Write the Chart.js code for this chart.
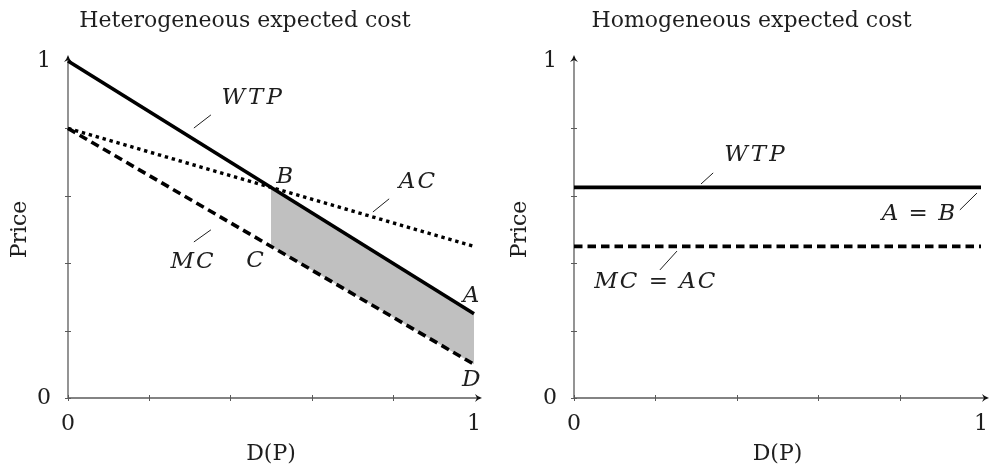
<!DOCTYPE html>
<html>
<head>
<meta charset="utf-8">
<script src="https://cdn.jsdelivr.net/npm/chart.js@4.4.1/dist/chart.umd.min.js"></script>
<style>
  html, body { margin: 0; padding: 0; background: #fff; }
  #wrap { position: relative; width: 993px; height: 467px; }
  canvas { position: absolute; top: 0; }
  #left { left: 0; }
  #right { left: 500px; }
</style>
</head>
<body>
<div id="wrap">
  <canvas id="left" width="500" height="467"></canvas>
  <canvas id="right" width="493" height="467"></canvas>
</div>
<script>
// Share of the market covered, D(P), at the two ends of the axis
const shareEnds = [0, 1];

// Heterogeneous expected cost: willingness to pay, average cost, marginal cost
const hetWTP = [1, 0.25];
const hetAC = [0.8, 0.45];
const hetMC = [0.8, 0.1];

// Welfare loss between WTP and MC, from the equilibrium B out to full coverage
const lossShare = [0.5, 1];
const lossTop = [0.625, 0.25];
const lossBottom = [0.45, 0.1];

// Homogeneous expected cost: WTP is flat and MC coincides with AC
const homWTP = [0.625, 0.625];
const homCost = [0.45, 0.45];

// Axis ticks: marks every 0.2, numbers only at the ends
const tickValues = [0, 0.2, 0.4, 0.6, 0.8, 1];
const labelledTicks = [0, 1];

const INK = '#1e1e1e';
const AXIS = '#5a5a5a';
const FAMILY = "'DejaVu Serif', 'Liberation Serif', serif";
const SIZE = 22;
const NOTE_SIZE = 23;

function pts(xs, ys) {
  return xs.map((x, i) => ({ x: x, y: ys[i] }));
}

function curve(xs, ys, style) {
  return Object.assign({
    data: pts(xs, ys),
    borderColor: '#000',
    borderWidth: 3.6,
    pointRadius: 0,
    fill: false,
    tension: 0,
    clip: false,
    borderCapStyle: 'butt'
  }, style);
}

function axes(yWidth) {
  const font = { family: FAMILY, size: SIZE };
  const tickFmt = v => (labelledTicks.includes(v) ? String(v) : '');
  const setTicks = s => { s.ticks = tickValues.map(v => ({ value: v })); };
  return {
    x: {
      type: 'linear', min: 0, max: 1,
      afterBuildTicks: setTicks,
      afterFit: s => { s.height = 69; },
      grid: { display: false }, border: { display: false },
      ticks: { autoSkip: false, maxRotation: 0, padding: 5, color: INK, font: font, callback: tickFmt },
      title: { display: true, text: 'D(P)', color: INK, font: font, padding: { top: 0, bottom: 0 } }
    },
    y: {
      type: 'linear', min: 0, max: 1,
      afterBuildTicks: setTicks,
      afterFit: s => { s.width = yWidth; },
      grid: { display: false }, border: { display: false },
      ticks: { autoSkip: false, padding: 9, color: INK, font: font, callback: tickFmt },
      title: { display: true, text: 'Price', color: INK, font: font, padding: { top: 7, bottom: 0 } }
    }
  };
}

// Axes with arrow tips, crossing tick marks, the heading and the pinned curve labels
const decor = {
  id: 'decor',
  beforeDatasetsDraw(chart, args, opts) {
    const { ctx, chartArea: a, scales: { x, y } } = chart;
    ctx.save();
    ctx.strokeStyle = AXIS;
    ctx.lineWidth = 1;
    tickValues.forEach(v => {
      if (v === 1) return;
      const px = Math.round(x.getPixelForValue(v)) + 0.5;
      const py = Math.round(y.getPixelForValue(v)) + 0.5;
      ctx.beginPath(); ctx.moveTo(px, a.bottom - 3); ctx.lineTo(px, a.bottom + 3); ctx.stroke();
      ctx.beginPath(); ctx.moveTo(a.left - 3, py); ctx.lineTo(a.left + 3, py); ctx.stroke();
    });
    const ox = x.getPixelForValue(0), oy = y.getPixelForValue(0);
    const yTip = y.getPixelForValue(1) - 6;
    const xTip = x.getPixelForValue(1) + 8;
    ctx.lineWidth = 1.3;
    ctx.beginPath(); ctx.moveTo(ox, oy); ctx.lineTo(ox, yTip + 2); ctx.stroke();
    ctx.beginPath(); ctx.moveTo(ox, oy); ctx.lineTo(xTip - 2, oy); ctx.stroke();
    ctx.fillStyle = '#111';
    ctx.beginPath();
    ctx.moveTo(ox, yTip);
    ctx.quadraticCurveTo(ox + 1.2, yTip + 4, ox + 4, yTip + 7);
    ctx.lineTo(ox, yTip + 5);
    ctx.lineTo(ox - 4, yTip + 7);
    ctx.quadraticCurveTo(ox - 1.2, yTip + 4, ox, yTip);
    ctx.fill();
    ctx.beginPath();
    ctx.moveTo(xTip, oy);
    ctx.quadraticCurveTo(xTip - 4, oy - 1.2, xTip - 7, oy - 4);
    ctx.lineTo(xTip - 5, oy);
    ctx.lineTo(xTip - 7, oy + 4);
    ctx.quadraticCurveTo(xTip - 4, oy + 1.2, xTip, oy);
    ctx.fill();
    ctx.restore();
  },
  afterDatasetsDraw(chart, args, opts) {
    const { ctx, chartArea: a, scales: { x, y } } = chart;
    ctx.save();
    ctx.fillStyle = INK;
    ctx.textAlign = 'center';
    ctx.textBaseline = 'middle';
    ctx.font = SIZE + 'px ' + FAMILY;
    ctx.fillText(opts.heading, (a.left + a.right) / 2 - 26, 21);
    ctx.font = 'italic ' + NOTE_SIZE + 'px ' + FAMILY;
    ctx.strokeStyle = INK;
    ctx.lineWidth = 1;
    (opts.notes || []).forEach(n => {
      ctx.letterSpacing = (n.spacing || 0) + 'px';
      ctx.fillText(n.text, x.getPixelForValue(n.at[0]), y.getPixelForValue(n.at[1]));
      if (n.lead) {
        ctx.beginPath();
        ctx.moveTo(x.getPixelForValue(n.lead[0][0]), y.getPixelForValue(n.lead[0][1]));
        ctx.lineTo(x.getPixelForValue(n.lead[1][0]), y.getPixelForValue(n.lead[1][1]));
        ctx.stroke();
      }
    });
    ctx.restore();
  }
};

function makeChart(id, datasets, yWidth, rightPad, heading, notes) {
  return new Chart(document.getElementById(id), {
    type: 'line',
    data: { datasets: datasets },
    options: {
      responsive: false,
      animation: false,
      events: [],
      layout: { padding: { top: 61, right: rightPad, bottom: 0, left: 0 } },
      scales: axes(yWidth),
      plugins: {
        legend: { display: false },
        tooltip: { enabled: false },
        title: { display: false },
        decor: { heading: heading, notes: notes }
      }
    },
    plugins: [decor]
  });
}

makeChart('left', [
  curve(shareEnds, hetWTP, { label: 'WTP' }),
  curve(shareEnds, hetAC, { label: 'AC', borderWidth: 3.4, borderDash: [3.4, 3.8] }),
  curve(shareEnds, hetMC, { label: 'MC', borderWidth: 3.6, borderDash: [8.5, 5] }),
  curve(lossShare, lossTop, { label: 'loss', borderWidth: 0, borderColor: 'rgba(0,0,0,0)', backgroundColor: '#c0c0c0', fill: '+1' }),
  curve(lossShare, lossBottom, { label: 'loss base', borderWidth: 0, borderColor: 'rgba(0,0,0,0)' })
], 68, 26, 'Heterogeneous expected cost', [
  { text: 'WTP', at: [0.456, 0.890], spacing: 3, lead: [[0.310, 0.801], [0.352, 0.840]] },
  { text: 'AC', at: [0.862, 0.641], spacing: 2, lead: [[0.751, 0.552], [0.791, 0.591]] },
  { text: 'MC', at: [0.308, 0.404], spacing: 2, lead: [[0.310, 0.463], [0.352, 0.499]] },
  { text: 'B', at: [0.534, 0.656] },
  { text: 'C', at: [0.461, 0.407] },
  { text: 'A', at: [0.993, 0.303] },
  { text: 'D', at: [0.993, 0.053] }
]);

makeChart('right', [
  curve(shareEnds, homWTP, { label: 'WTP', borderWidth: 3.8 }),
  curve(shareEnds, homCost, { label: 'MC = AC', borderWidth: 3.8, borderDash: [8.5, 5] })
], 74, 12, 'Homogeneous expected cost', [
  { text: 'WTP', at: [0.447, 0.721], spacing: 3, lead: [[0.312, 0.635], [0.342, 0.668]] },
  { text: 'A = B', at: [0.848, 0.546], spacing: 1.5, lead: [[0.948, 0.558], [0.990, 0.608]] },
  { text: 'MC = AC', at: [0.201, 0.344], spacing: 2, lead: [[0.211, 0.380], [0.253, 0.436]] }
]);
</script>
</body>
</html>
